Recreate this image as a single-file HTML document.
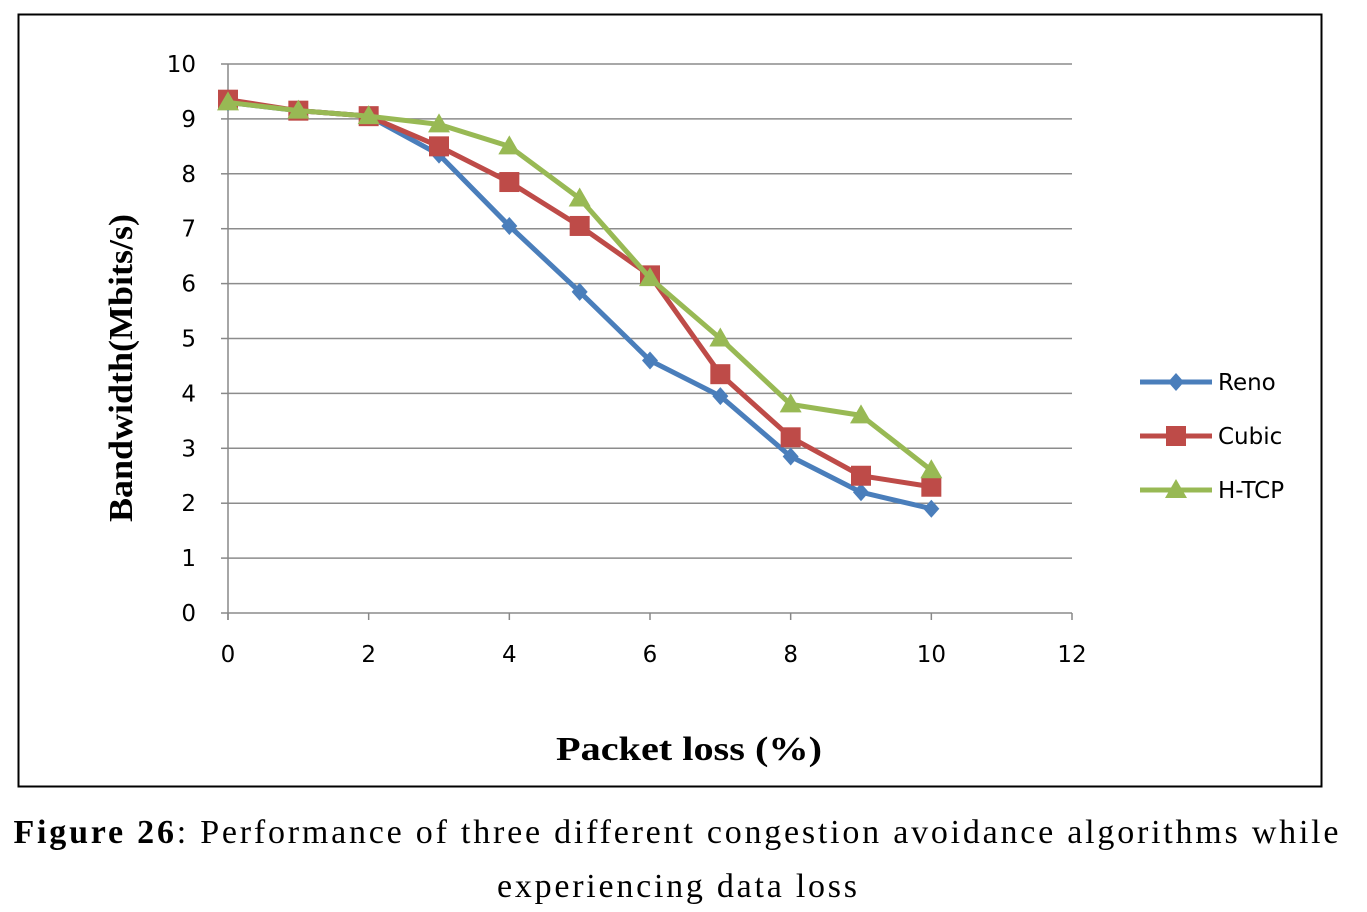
<!DOCTYPE html>
<html><head><meta charset="utf-8"><style>
body{margin:0;background:#fff;width:1367px;height:912px;overflow:hidden}
svg{display:block}
</style></head><body>
<svg width="1367" height="912" xmlns="http://www.w3.org/2000/svg" id="chart">
<rect x="18.5" y="14.5" width="1303" height="772" fill="#fff" stroke="#000" stroke-width="2"/>
<g id="grid"></g><g id="axes"></g><g id="series"></g>
<text transform="translate(132,368) rotate(-90)" text-anchor="middle" font-family="Liberation Serif, serif" font-weight="bold" font-size="34" textLength="308" lengthAdjust="spacingAndGlyphs">Bandwidth(Mbits/s)</text>
<text x="689" y="760" text-anchor="middle" font-family="Liberation Serif, serif" font-weight="bold" font-size="34" textLength="266" lengthAdjust="spacingAndGlyphs">Packet loss (%)</text>
<g id="legend"></g>
<text x="676" y="843" text-anchor="middle" font-family="Liberation Serif, serif" font-size="34" textLength="1325"><tspan font-weight="bold">Figure 26</tspan>: Performance of three different congestion avoidance algorithms while</text>
<text x="677" y="897" text-anchor="middle" font-family="Liberation Serif, serif" font-size="34" textLength="360">experiencing data loss</text>
</svg>
<script>
const xValues=[0,1,2,3,4,5,6,7,8,9,10];
const reno=[9.3,9.15,9.05,8.35,7.05,5.85,4.6,3.95,2.85,2.2,1.9];
const cubic=[9.35,9.15,9.05,8.5,7.85,7.05,6.15,4.35,3.2,2.5,2.3];
const htcp=[9.3,9.15,9.05,8.9,8.5,7.55,6.1,5.0,3.8,3.6,2.6];
const yTicks=[0,1,2,3,4,5,6,7,8,9,10];
const xTicks=[0,2,4,6,8,10,12];
const seriesNames=["Reno","Cubic","H-TCP"];
const NS="http://www.w3.org/2000/svg";
const X=v=>228+v*(1072-228)/12;
const Y=v=>613-v*(613-64)/10;
function mk(tag,attrs,parent){const e=document.createElementNS(NS,tag);for(const k in attrs)e.setAttribute(k,attrs[k]);parent.appendChild(e);return e;}
const grid=document.getElementById('grid'),axes=document.getElementById('axes'),ser=document.getElementById('series'),leg=document.getElementById('legend');
yTicks.forEach(t=>{
 const l=mk('line',{x1:X(0),x2:X(12),y1:Y(t),y2:Y(t),stroke:'#8c8c8c','stroke-width':1.5},grid);
 
 
 const tk=mk('line',{x1:X(0)-7,x2:X(0),y1:Y(t),y2:Y(t),stroke:'#888','stroke-width':1.5},axes);
 
 
 const tx=mk('text',{x:196,y:Y(t)+8,'text-anchor':'end','font-family':'DejaVu Sans, sans-serif','font-size':23},axes);
 tx.textContent=t;
 
 
});
const ya=mk('line',{x1:X(0),x2:X(0),y1:Y(10),y2:Y(0)+7,stroke:'#888','stroke-width':1.5},axes);


xTicks.forEach(t=>{
 const tk=mk('line',{x1:X(t),x2:X(t),y1:Y(0),y2:Y(0)+7,stroke:'#888','stroke-width':1.5},axes);
 
 
 const tx=mk('text',{x:X(t),y:662,'text-anchor':'middle','font-family':'DejaVu Sans, sans-serif','font-size':23},axes);
 tx.textContent=t;
 
 
});
const cols=['#4a7ebb','#be4b48','#98b954'];
const data=[reno,cubic,htcp];
function marker(i,cx,cy,p){
 let m;
 if(i===0)m=mk('polygon',{points:`${cx},${cy-9} ${cx+8},${cy} ${cx},${cy+9} ${cx-8},${cy}`,fill:cols[0]},p);
 else if(i===1)m=mk('rect',{x:cx-10,y:cy-10,width:20,height:20,fill:cols[1]},p);
 else m=mk('polygon',{points:`${cx},${cy-11} ${cx+11},${cy+8} ${cx-11},${cy+8}`,fill:cols[2]},p);
 return m;
}
data.forEach((d,i)=>{
 const g=mk('g',{},ser);
 
 
 const pl=mk('polyline',{points:d.map((v,j)=>X(xValues[j])+','+Y(v)).join(' '),fill:'none',stroke:cols[i],'stroke-width':5,'stroke-linejoin':'round'},g);
 
 
 d.forEach((v,j)=>{const m=marker(i,X(xValues[j]),Y(v),g);
  
  });
});
seriesNames.forEach((n,i)=>{
 const y=382+i*54;
 const g=mk('g',{},leg);
 
 
 mk('line',{x1:1140,x2:1212,y1:y,y2:y,stroke:cols[i],'stroke-width':5},g);
 marker(i,1176,y,g);
 const t=mk('text',{x:1218,y:y+8,'font-family':'DejaVu Sans, sans-serif','font-size':23},g);
 t.textContent=n;
});
</script>
</body></html>
